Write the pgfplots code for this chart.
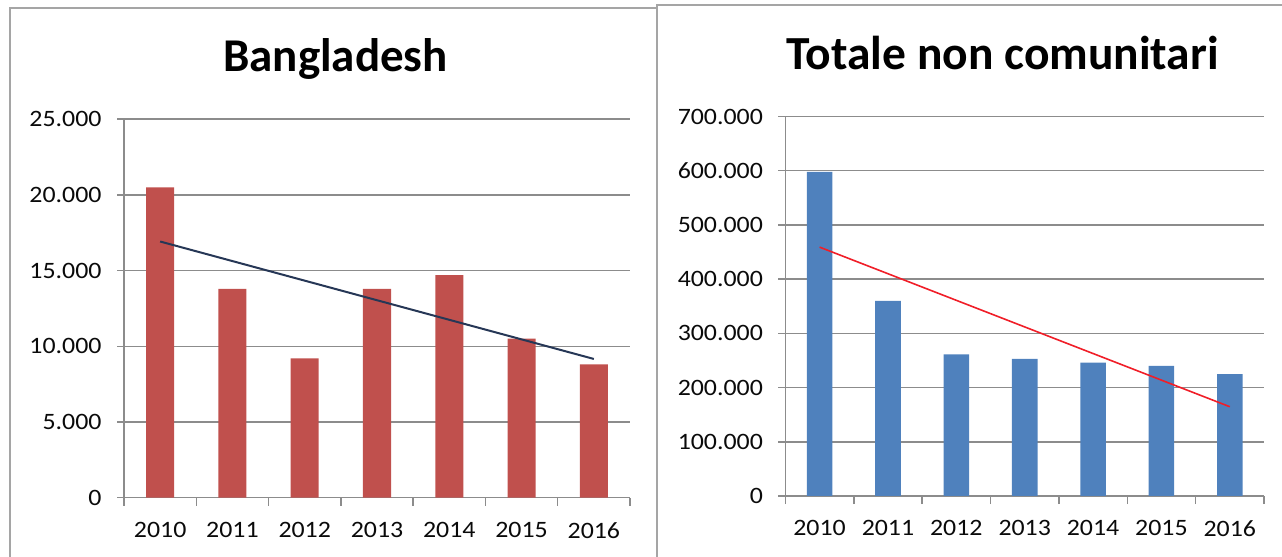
\documentclass[border=0pt]{standalone}
\usepackage{fontspec}
\setmainfont{Carlito}
\newfontfamily\tickfont[FakeStretch=1.1]{Carlito}
\usepackage{pgfplots}
\usepackage{pgfplotstable}
\pgfplotsset{compat=1.18}

\definecolor{axgray}{RGB}{140,140,140}
\definecolor{framegray}{RGB}{165,165,165}
\definecolor{barred}{RGB}{192,80,77}
\definecolor{barblue}{RGB}{79,129,189}
\definecolor{navy}{RGB}{38,55,86}
\definecolor{trendred}{RGB}{240,30,40}
\definecolor{txt}{RGB}{10,10,10}

\pgfplotstableread{
x y
0 20500
1 13800
2 9200
3 13800
4 14700
5 10500
6 8800
}\bangla

\pgfplotstableread{
x y
0 598000
1 360000
2 261000
3 253000
4 246000
5 240000
6 225000
}\totale

\pgfplotsset{mystyle/.style={
  scale only axis, anchor=south west,
  xmin=-0.5, xmax=6.5, ymin=0,
  axis lines*=left,
  axis line style={draw=axgray, line width=1.5bp},
  ymajorgrids, grid style={draw=axgray, line width=1.5bp},
  xtick={0,1,2,3,4,5,6},
  xticklabels={2010,2011,2012,2013,2014,2015,2016},
  minor xtick={-0.5,0.5,1.5,2.5,3.5,4.5,5.5,6.5},
  tick align=outside,
  major tick length=7bp, minor tick length=8bp,
  major x tick style={draw=none},
  minor x tick style={draw=axgray, line width=1.5bp},
  y tick style={draw=axgray, line width=1.5bp},
  tick label style={font=\tickfont\fontsize{23.5bp}{27bp}\selectfont, text=txt},
  yticklabel style={xshift=-12bp},
  xticklabel style={yshift=-14bp},
  scaled y ticks=false,
  /pgf/number format/fixed,
  /pgf/number format/1000 sep={.},
  /pgf/number format/assume math mode=true,
}}

\begin{document}
\begin{tikzpicture}
\useasboundingbox (0,0) rectangle (1282bp,557bp);
\clip (0,0) rectangle (1282bp,557bp);
\draw[framegray, line width=2bp] (9.5bp,-10bp) -- (9.5bp,548.5bp) -- (656.5bp,548.5bp);
\draw[framegray, line width=2bp] (656.5bp,-10bp) -- (656.5bp,551.5bp) -- (1300bp,551.5bp);

\node[anchor=base, font=\bfseries\fontsize{47bp}{50bp}\selectfont, text=black] at (335.5bp,485.3bp) {Bangladesh};
\node[anchor=base, font=\bfseries\fontsize{47.5bp}{50bp}\selectfont, text=black] at (1002.5bp,487.7bp) {Totale non comunitari};

\begin{axis}[mystyle, at={(124bp,59.3bp)}, width=506bp, height=378.5bp,
  ymax=25000, ytick={0,5000,10000,15000,20000,25000}]
  \addplot[ybar, bar width=28bp, fill=barred, draw=none] table[x=x,y=y] {\bangla};
  \addplot[navy, line width=2bp, no markers] table[x=x, y={create col/linear regression={y=y}}] {\bangla};
\end{axis}

\begin{axis}[mystyle, at={(785.4bp,61bp)}, width=478.6bp, height=379.5bp,
  ymax=700000, ytick={0,100000,200000,300000,400000,500000,600000,700000}]
  \addplot[ybar, bar width=25.6bp, fill=barblue, draw=none] table[x=x,y=y] {\totale};
  \addplot[trendred, line width=1.6bp, no markers] table[x=x, y={create col/linear regression={y=y}}] {\totale};
\end{axis}
\end{tikzpicture}
\end{document}
